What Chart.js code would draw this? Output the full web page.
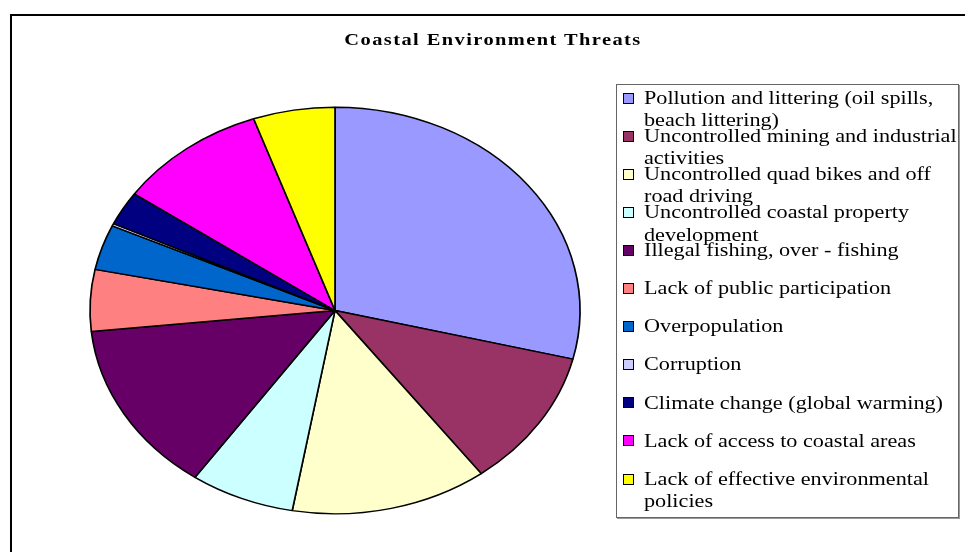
<!DOCTYPE html>
<html>
<head>
<meta charset="utf-8">
<script src="https://cdn.jsdelivr.net/npm/chart.js@4.4.1/dist/chart.umd.min.js"></script>
<style>
  html, body { margin: 0; padding: 0; background: #fff; }
  #wrap { position: relative; width: 965px; height: 552px; overflow: hidden; font-family: "Liberation Serif", "DejaVu Serif", serif; }
  #frame { position: absolute; left: 10px; top: 14px; width: 1000px; height: 600px; border-top: 2px solid #000; border-left: 2px solid #000; }
  #pie { position: absolute; left: 0; top: 0; }
  #title { position: absolute; left: 243px; width: 500px; top: 30px; text-align: center; font-weight: bold; font-size: 17px; letter-spacing: 1.2px; color: #000; transform: scaleX(1.2); transform-origin: 250px 0; }
  #legend { position: absolute; left: 616px; top: 84px; width: 341px; height: 432px; border: 1px solid #666; box-shadow: 1px 1px 0 #999; background: #fff; }
  .item { position: absolute; left: 0; }
  .swatch { position: absolute; left: 6px; width: 9px; height: 9px; border: 1px solid #000; }
  .text { position: absolute; left: 27px; white-space: nowrap; font-size: 18.5px; line-height: 22.6px; color: #000; transform: scaleX(1.2); transform-origin: 0 0; }
</style>
</head>
<body>
<div id="wrap">
  <div id="frame"></div>
  <canvas id="pie" width="965" height="552"></canvas>
  <div id="title">Coastal Environment Threats</div>
  <div id="legend"></div>
</div>
<script>
// threat categories, each split into its legend lines
const categories = [
    ['Pollution and littering (oil spills,', 'beach littering)'],
    ['Uncontrolled mining and industrial', 'activities'],
    ['Uncontrolled quad bikes and off', 'road driving'],
    ['Uncontrolled coastal property', 'development'],
    ['Illegal fishing, over - fishing'],
    ['Lack of public participation'],
    ['Overpopulation'],
    ['Corruption'],
    ['Climate change (global warming)'],
    ['Lack of access to coastal areas'],
    ['Lack of effective environmental', 'policies']
];
// share of responses (%)
const shares = [28.9, 11.0, 13.0, 6.9, 13.7, 4.9, 3.6, 0.2, 2.7, 9.9, 5.4];
const sliceColors = ['#9999FF', '#993366', '#FFFFCC', '#CCFFFF', '#660066', '#FF8080',
                     '#0066CC', '#CCCCFF', '#000080', '#FF00FF', '#FFFF00'];

// stretch the round pie into an ellipse around its centre
const ellipse = {
    id: 'ellipse',
    beforeDatasetsDraw(chart) {
        const arc = chart.getDatasetMeta(0).data[0];
        const ctx = chart.ctx;
        ctx.save();
        ctx.translate(arc.x, arc.y);
        ctx.scale(245 / arc.outerRadius, 1);
        ctx.translate(-arc.x, -arc.y);
    },
    afterDatasetsDraw(chart) {
        chart.ctx.restore();
    }
};

const ctx = document.getElementById('pie').getContext('2d');
const pieChart = new Chart(ctx, {
    type: 'pie',
    data: {
        labels: categories.map(l => l.join(' ')),
        datasets: [{
            data: shares,
            backgroundColor: sliceColors,
            borderColor: '#000',
            borderWidth: 1.4
        }]
    },
    options: {
        responsive: false,
        animation: false,
        devicePixelRatio: 1,
        layout: { padding: { left: 131, right: 426, top: 106, bottom: 37 } },
        plugins: {
            legend: { display: false },
            title: { display: false },
            tooltip: { enabled: false }
        }
    },
    plugins: [ellipse]
});

// legend box, one row per category
const legend = document.getElementById('legend');
categories.forEach((lines, i) => {
    const mid = 13 + i * 38.1;
    const row = document.createElement('div');
    row.className = 'item';
    const sw = document.createElement('div');
    sw.className = 'swatch';
    sw.style.top = (mid - 5.5) + 'px';
    sw.style.background = sliceColors[i];
    const txt = document.createElement('div');
    txt.className = 'text';
    txt.style.top = (mid - 11.3) + 'px';
    txt.innerHTML = lines.join('<br>');
    row.appendChild(sw);
    row.appendChild(txt);
    legend.appendChild(row);
});
</script>
</body>
</html>
